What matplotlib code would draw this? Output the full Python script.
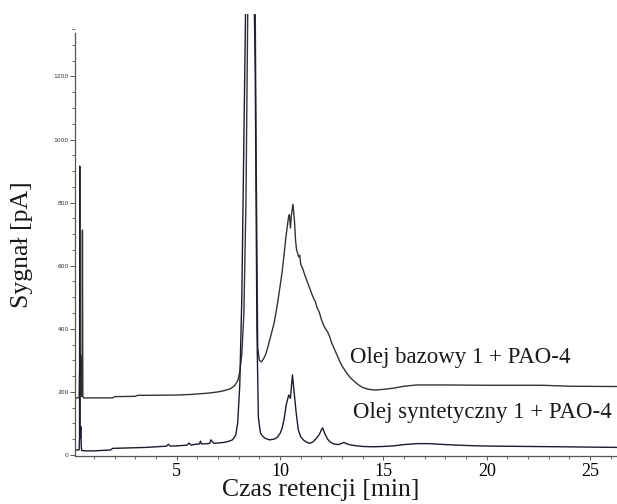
import matplotlib
matplotlib.use("Agg")
import matplotlib.pyplot as plt
from matplotlib.ticker import MultipleLocator

# ---- data ----
t_bazowy = [0.10, 0.28, 0.30, 0.32, 0.34, 0.36, 0.38, 0.42, 0.44, 0.46, 0.50, 1.0, 1.9, 2.0, 3.0, 3.1,
            5.0, 5.7, 6.5, 7.0, 7.3, 7.6, 7.8, 7.95, 8.05, 8.15, 8.25, 8.35, 8.45, 8.55, 8.62, 8.68,
            8.78, 8.85, 8.92, 9.0, 9.1, 9.2, 9.3, 9.4, 9.5, 9.6, 9.7, 9.8, 9.9, 10.0, 10.1, 10.2,
            10.3, 10.4, 10.45, 10.5, 10.55, 10.62, 10.66, 10.7, 10.75, 10.8, 10.85, 10.9, 10.95, 11.0,
            11.1, 11.2, 11.3, 11.4, 11.5, 11.6, 11.7, 11.8, 11.9, 12.0, 12.1, 12.2, 12.3, 12.4, 12.5,
            12.6, 12.7, 12.8, 12.9, 13.0, 13.2, 13.4, 13.6, 13.8, 14.0, 14.3, 14.6, 15.0, 15.5, 16.0,
            16.6, 18.0, 20.0, 22.7, 24.0, 26.4]
v_bazowy = [181, 181, 260, 320, 280, 315, 190, 185, 713, 185, 181, 181, 181, 185, 186, 189,
            190, 192, 196, 200, 204, 210, 220, 235, 262, 320, 450, 800, 1500, 1800, 1500, 1700,
            1600, 900, 340, 300, 295, 305, 318, 340, 365, 390, 415, 450, 490, 535, 580, 640,
            700, 750, 762, 720, 760, 795, 770, 740, 680, 650, 640, 628, 633, 605,
            590, 570, 552, 535, 517, 500, 487, 466, 452, 430, 412, 400, 390, 375, 355,
            340, 325, 310, 295, 282, 262, 245, 233, 222, 214, 208, 206, 208, 212, 218,
            222, 222, 221, 221, 218, 217]

t_synt = [0.10, 0.28, 0.30, 0.31, 0.32, 0.34, 0.36, 0.38, 0.40, 0.6, 1.0, 1.8, 1.9, 3.0, 3.5, 4.0,
          4.5, 4.6, 4.7, 5.0, 5.5, 5.6, 5.7, 5.8, 6.1, 6.15, 6.2, 6.5, 6.6, 6.65, 6.8, 7.0, 7.3,
          7.5, 7.7, 7.85, 7.95, 8.05, 8.15, 8.25, 8.35, 8.5, 8.6, 8.7, 8.8, 8.88, 8.95, 9.05,
          9.15, 9.3, 9.5, 9.7, 9.85, 10.0, 10.1, 10.2, 10.3, 10.42, 10.5, 10.6, 10.68, 10.77,
          10.88, 11.0, 11.12, 11.3, 11.44, 11.6, 11.76, 11.9, 12.0, 12.06, 12.15, 12.3, 12.45,
          12.6, 12.8, 13.0, 13.09, 13.2, 13.4, 13.7, 14.0, 14.5, 15.0, 15.5, 16.0, 16.6, 17.2,
          18.0, 18.7, 19.5, 20.5, 22.0, 23.7, 25.0, 26.4]
v_synt = [16, 16, 60, 916, 90, 55, 90, 30, 14, 13, 13, 16, 21, 23, 24, 26,
          28, 34, 28, 29, 31, 38, 31, 33, 35, 44, 35, 36, 37, 48, 37, 38, 40,
          43, 48, 62, 100, 220, 500, 1000, 1500, 1700, 1600, 1700, 1200, 400, 120, 70,
          60, 52, 48, 50, 55, 68, 85, 115, 160, 190, 180, 254, 200, 140,
          80, 58, 48, 40, 37, 42, 53, 65, 80, 86, 70, 50, 40,
          35, 33, 37, 40, 36, 32, 29, 27, 26, 27, 29, 33, 36, 36,
          33, 31, 29, 28, 27, 26, 25, 24]

label_bazowy = "Olej bazowy 1 + PAO-4"
label_synt = "Olej syntetyczny 1 + PAO-4"
xlabel = "Czas retencji [min]"
ylabel = "Sygnał [pA]"

serif = "Liberation Serif"

fig = plt.figure(figsize=(6.17, 5.04), dpi=100)
ax = fig.add_axes([75 / 617, 48 / 504, 542 / 617, 442 / 504])

ax.plot(t_bazowy, v_bazowy, color="#333333", lw=1.0)
ax.plot(t_synt, v_synt, color="#1e1b2e", lw=1.0)

ax.set_xlim(0.08, 26.3)
ax.set_ylim(-3.2, 1398)

for s in ("top", "right"):
    ax.spines[s].set_visible(False)
ax.spines["left"].set_bounds(-3.2, 1337)
for s in ("left", "bottom"):
    ax.spines[s].set_color("#555555")
    ax.spines[s].set_linewidth(0.9)

ax.xaxis.set_major_locator(MultipleLocator(5))
ax.xaxis.set_minor_locator(MultipleLocator(1))
ax.yaxis.set_minor_locator(MultipleLocator(50))
ax.set_yticks([0, 200, 400, 600, 800, 1000, 1200])

ax.tick_params(axis="y", which="major", length=3.5, width=0.7, color="#555555",
               labelsize=4.3, labelcolor="#333333", pad=1)
ax.tick_params(axis="y", which="minor", length=2, width=0.6, color="#555555")
ax.tick_params(axis="x", which="major", length=3, width=0.7, color="#555555",
               labelsize=13, pad=2)
ax.tick_params(axis="x", which="minor", length=2, width=0.6, color="#555555")
for lab in ax.get_xticklabels():
    lab.set_family(serif)

fig.text(321 / 617, 1 - 490 / 504, xlabel, family=serif, fontsize=18.5,
         ha="center", va="center", color="#1a1a1a")
fig.text(22 / 617, 1 - 245 / 504, ylabel, family=serif, fontsize=18.5,
         ha="center", va="center", rotation=90, color="#1a1a1a")

ax.text(13.38, 308, label_bazowy, family=serif, fontsize=16.5,
        va="center", ha="left", color="#1a1a1a")
ax.text(13.53, 136, label_synt, family=serif, fontsize=16.5,
        va="center", ha="left", color="#1a1a1a")

fig.savefig("out.png", dpi=100)
